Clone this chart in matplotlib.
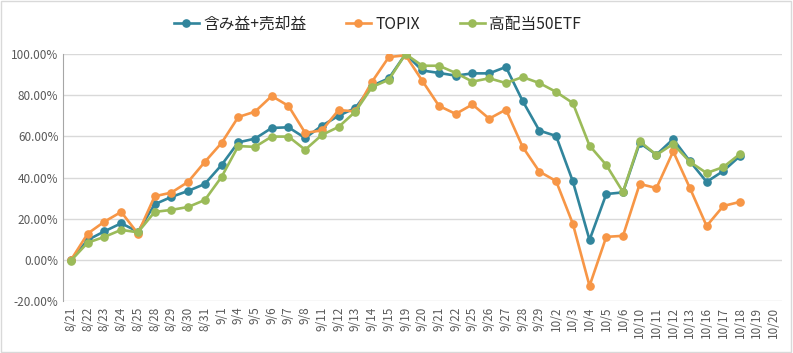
import matplotlib
matplotlib.use('Agg')
import matplotlib.pyplot as plt
from matplotlib.patches import Rectangle
from matplotlib.ticker import FuncFormatter

plt.rcParams['font.family'] = ['Noto Sans CJK JP', 'DejaVu Sans']

dates = ['8/21', '8/22', '8/23', '8/24', '8/25', '8/28', '8/29', '8/30', '8/31', '9/1',
         '9/4', '9/5', '9/6', '9/7', '9/8', '9/11', '9/12', '9/13', '9/14', '9/15',
         '9/19', '9/20', '9/21', '9/22', '9/25', '9/26', '9/27', '9/28', '9/29', '10/2',
         '10/3', '10/4', '10/5', '10/6', '10/10', '10/11', '10/12', '10/13', '10/16', '10/17',
         '10/18', '10/19', '10/20']

# percent values (None = no data yet)
profit = [0, 9.7, 13.9, 17.8, 13.7, 27.0, 30.6, 33.5, 36.9, 46.1,
          57.1, 58.9, 64.1, 64.4, 59.2, 65.2, 70.0, 73.8, 84.6, 88.2,
          100, 92.0, 90.8, 89.5, 90.6, 90.6, 93.7, 77.2, 62.8, 60.2,
          38.2, 9.7, 32.0, 32.8, 56.8, 51.1, 58.7, 47.9, 37.9, 43.2,
          50.5, None, None]
topix = [0, 12.8, 18.6, 23.3, 12.8, 30.9, 32.7, 37.9, 47.6, 56.8,
         69.4, 72.0, 79.6, 74.8, 61.7, 62.9, 72.8, 72.1, 86.6, 98.5,
         99.4, 87.0, 74.8, 70.9, 75.5, 68.6, 73.0, 54.9, 42.9, 38.3,
         17.6, -12.6, 11.2, 11.7, 36.9, 34.9, 52.7, 34.9, 16.5, 26.2,
         28.2, None, None]
etf50 = [-0.3, 8.4, 11.2, 14.6, 13.4, 23.3, 24.3, 25.7, 29.1, 40.3,
         55.3, 54.9, 59.9, 59.9, 53.5, 60.7, 64.6, 72.0, 84.0, 87.5,
         100, 94.3, 94.3, 90.8, 86.6, 88.2, 85.9, 88.8, 85.9, 81.6,
         76.2, 55.5, 46.1, 33.0, 57.6, 51.0, 56.3, 47.6, 42.2, 45.1,
         51.5, None, None]

series = [('含み益+売却益', profit, '#31859C'),
          ('TOPIX', topix, '#F79646'),
          ('高配当50ETF', etf50, '#9BBB59')]


def to_float(vals):
    return [float('nan') if v is None else v for v in vals]


fig = plt.figure(figsize=(7.93, 3.53), dpi=100)
ax = fig.add_axes([0.079, 0.147, 0.907, 0.700])

x = list(range(len(dates)))
for name, vals, color in series:
    ax.plot(x, to_float(vals), color=color, lw=1.9, marker='o', ms=5.2,
            label=name, solid_joinstyle='round')

ax.set_xlim(-0.5, len(dates) - 0.5)
ax.set_ylim(-20, 100)
ax.set_yticks(range(-20, 101, 20))
ax.yaxis.set_major_formatter(FuncFormatter(lambda v, p: '%.2f%%' % v))
ax.set_xticks(x)
ax.set_xticklabels(dates, rotation=90)

ax.grid(axis='y', color='#D9D9D9', lw=1)
ax.set_axisbelow(True)
for s in ['top', 'right', 'bottom']:
    ax.spines[s].set_visible(False)
ax.spines['left'].set_color('#A6A6A6')
ax.tick_params(axis='both', length=0, labelsize=8.5, colors='#595959', pad=3)
ax.tick_params(axis='x', pad=4)

leg = fig.legend(loc='upper center', bbox_to_anchor=(0.476, 0.995), ncol=3,
                 frameon=False, fontsize=11.3, handlelength=1.6,
                 columnspacing=2.5, handletextpad=0.3)
for t in leg.get_texts():
    t.set_color('#262626')

fig.patches.append(Rectangle((0.001, 0.002), 0.997, 0.995, transform=fig.transFigure,
                             fill=False, edgecolor='#D9D9D9', lw=1))

fig.savefig('out.png', dpi=100)
